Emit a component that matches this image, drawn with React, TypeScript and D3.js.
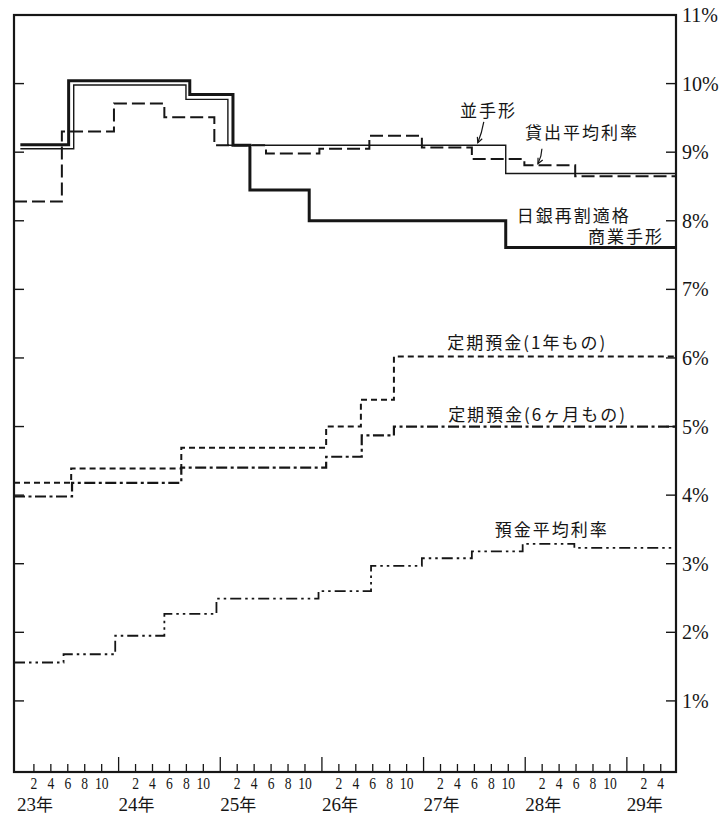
import React from 'react';
import * as d3 from 'd3';

// ---- data (months counted from January of 昭和23年) ----
const yearLabels = ['23', '24', '25', '26', '27', '28', '29'];
const monthLabels = ['2', '4', '6', '8', '10'];
const lastYearMonthLabels = ['2', '4'];
const rateTicks = [1, 2, 3, 4, 5, 6, 7, 8, 9, 10, 11];

const X_START = -0.35;
const X_END = 77.8;

// 日銀再割適格商業手形
const commBillMonths = [0.4, 6.1, 20.4, 25.5, 27.5, 34.5, 57.7];
const commBillRates = [9.11, 10.04, 9.84, 9.1, 8.45, 8.0, 7.61];
// 並手形
const ordBillMonths = [0.4, 6.7, 19.95, 24.9, 57.7];
const ordBillRates = [9.05, 9.98, 9.77, 9.1, 8.69];
// 貸出平均利率
const loanAvgMonths = [X_START, 5.3, 11.45, 17.4, 23.3, 29.4, 35.7, 41.6, 47.8, 53.7, 59.9, 65.9];
const loanAvgRates = [8.28, 9.3, 9.71, 9.51, 9.1, 8.98, 9.05, 9.24, 9.07, 8.9, 8.81, 8.65];
// 定期預金(1年もの)
const time1yMonths = [X_START, 6.4, 19.4, 36.5, 40.6, 44.5];
const time1yRates = [4.18, 4.39, 4.69, 5.0, 5.39, 6.02];
// 定期預金(6ヶ月もの)
const time6mMonths = [X_START, 6.5, 19.4, 36.5, 40.7, 44.5];
const time6mRates = [3.98, 4.18, 4.4, 4.56, 4.87, 5.0];
// 預金平均利率
const depAvgMonths = [X_START, 5.5, 11.6, 17.4, 23.55, 35.6, 41.8, 47.8, 53.7, 59.7, 65.8];
const depAvgRates = [1.56, 1.68, 1.95, 2.27, 2.49, 2.6, 2.97, 3.08, 3.18, 3.29, 3.23];

const INK = '#161616';
const SERIF = '"Liberation Serif", "DejaVu Serif", serif';
const CJK = '"Noto Sans CJK JP", "Noto Sans CJK SC", sans-serif';

export default function App() {
  const W = 724;
  const H = 816;
  const left = 14;
  const right = 676;
  const top = 15;
  const bottom = 772;

  const x = d3.scaleLinear().domain([X_START, X_END]).range([left, right]);
  const y = d3.scaleLinear().domain([0, 11]).range([769.5, 15]);

  const line = d3
    .line<[number, number]>()
    .x((d) => x(d[0]))
    .y((d) => y(d[1]))
    .curve(d3.curveStepAfter);

  const stepPath = (months: number[], rates: number[]) => {
    const pts: [number, number][] = months.map((m, i) => [m, rates[i]]);
    pts.push([X_END, rates[rates.length - 1]]);
    return line(pts) || '';
  };

  const series = [
    { months: commBillMonths, rates: commBillRates, w: 3, dash: undefined },
    { months: ordBillMonths, rates: ordBillRates, w: 1.4, dash: undefined },
    { months: loanAvgMonths, rates: loanAvgRates, w: 2, dash: '13,5' },
    { months: time1yMonths, rates: time1yRates, w: 2, dash: '6,4' },
    { months: time6mMonths, rates: time6mRates, w: 2.2, dash: '11,3.5,3,3.5' },
    { months: depAvgMonths, rates: depAvgRates, w: 1.8, dash: '11,4,2.5,4,2.5,4' },
  ];

  // bottom ticks every 2 months
  const monthTicks: number[] = [];
  for (let m = 2; m <= 76; m += 2) monthTicks.push(m);

  const monthLabelItems: { m: number; label: string }[] = [];
  yearLabels.forEach((_, k) => {
    const labels = k === yearLabels.length - 1 ? lastYearMonthLabels : monthLabels;
    labels.forEach((l) => monthLabelItems.push({ m: k * 12 + Number(l), label: l }));
  });

  const arrow = (tx: number, ty: number, dx: number, dy: number, key: string) => {
    const sx = tx + dx;
    const sy = ty + dy;
    const cx = tx + dx * 0.2 + 3;
    const cy = ty + dy * 0.5;
    const ang = Math.atan2(ty - cy, tx - cx);
    const hl = 6;
    const a1 = ang + Math.PI - 0.45;
    const a2 = ang + Math.PI + 0.45;
    return (
      <g key={key} fill="none" stroke={INK} strokeWidth={1.2}>
        <path d={`M${sx},${sy} Q${cx},${cy} ${tx},${ty}`} />
        <path
          d={`M${tx + hl * Math.cos(a1)},${ty + hl * Math.sin(a1)} L${tx},${ty} L${tx + hl * Math.cos(a2)},${ty + hl * Math.sin(a2)}`}
        />
      </g>
    );
  };

  const labelStyle = {
    fontFamily: CJK,
    fontSize: 17,
    letterSpacing: 2,
    fill: INK,
  } as React.CSSProperties;

  return (
    <>
      <style>{`body{margin:0;background:#fff}`}</style>
      <svg width={W} height={H} viewBox={`0 0 ${W} ${H}`} style={{ display: 'block', background: '#fff' }}>
        {/* frame */}
        <rect x={left} y={top} width={right - left} height={bottom - top} fill="none" stroke={INK} strokeWidth={2.2} />

        {/* left & right inward ticks */}
        {rateTicks.slice(0, -1).map((v) => (
          <g key={'t' + v} stroke={INK} strokeWidth={1.4}>
            <line x1={left} x2={left + 10} y1={y(v)} y2={y(v)} />
            <line x1={right - 10} x2={right} y1={y(v)} y2={y(v)} />
          </g>
        ))}

        {/* right labels */}
        {rateTicks.map((v) => (
          <text key={'l' + v} x={682} y={y(v) + 7} fontFamily={SERIF} fontSize={20} fill={INK}>
            {v}%
          </text>
        ))}

        {/* bottom ticks */}
        {monthTicks.map((m) => (
          <line
            key={'m' + m}
            x1={x(m)}
            x2={x(m)}
            y1={bottom}
            y2={bottom - (m % 12 === 0 ? 15 : 8)}
            stroke={INK}
            strokeWidth={1.3}
          />
        ))}

        {/* month labels */}
        {monthLabelItems.map((d) => (
          <text
            key={'ml' + d.m}
            transform={`translate(${x(d.m)},789) scale(0.8,1)`}
            textAnchor="middle"
            fontFamily={SERIF}
            fontSize={17}
            fill={INK}
          >
            {d.label}
          </text>
        ))}

        {/* year labels */}
        {yearLabels.map((yl, k) => (
          <text key={'y' + yl} x={Math.max(x(k * 12), 13)} y={811} fill={INK}>
            <tspan fontFamily={SERIF} fontSize={19}>
              {yl}
            </tspan>
            <tspan fontFamily={CJK} fontSize={17}>
              年
            </tspan>
          </text>
        ))}

        {/* series */}
        {series.map((s, i) => (
          <path
            key={'s' + i}
            d={stepPath(s.months, s.rates)}
            fill="none"
            stroke={INK}
            strokeWidth={s.w}
            strokeDasharray={s.dash}
            strokeLinejoin="miter"
          />
        ))}

        {/* annotations */}
        <text x={x(52.3)} y={y(9.52)} style={labelStyle}>並手形</text>
        {arrow(x(54.4), y(9.1) - 2.5, 6, -21, 'a1')}
        <text x={x(59.97)} y={y(9.19)} style={labelStyle}>貸出平均利率</text>
        {arrow(x(61.5), y(8.81) - 1.5, 4, -15, 'a2')}
        <text style={labelStyle}>
          <tspan x={x(59.0)} y={y(7.98)}>日銀再割適格</tspan>
          <tspan x={x(67.4)} y={y(7.67)}>商業手形</tspan>
        </text>
        <text x={x(50.8)} y={y(6.13)} style={labelStyle}>定期預金(1年もの)</text>
        <text x={x(50.9)} y={y(5.08)} style={labelStyle}>定期預金(6ヶ月もの)</text>
        <text x={x(56.4)} y={y(3.4)} style={labelStyle}>預金平均利率</text>
      </svg>
    </>
  );
}
